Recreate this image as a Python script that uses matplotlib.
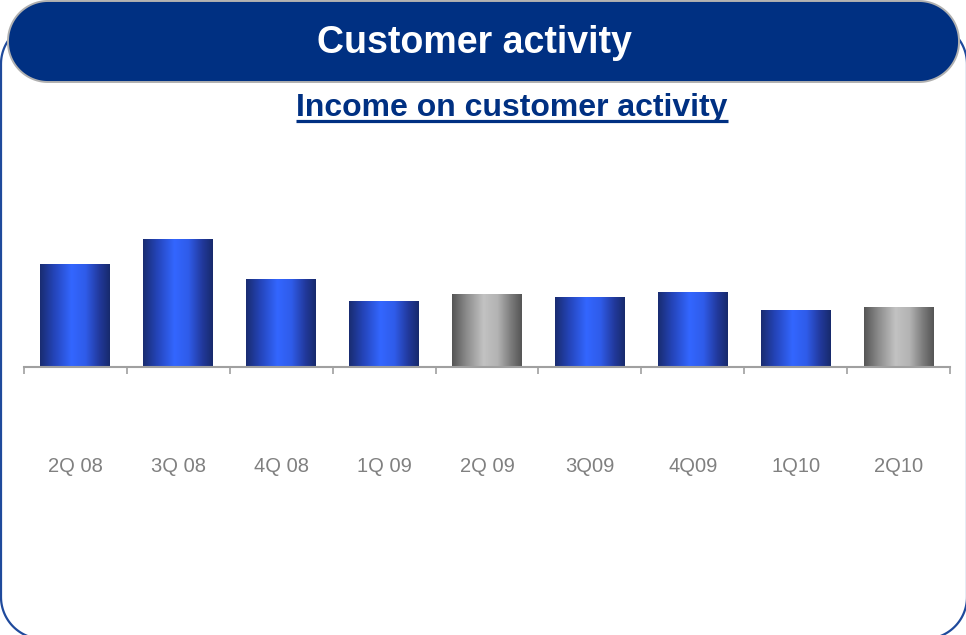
import numpy as np
import matplotlib
matplotlib.use("Agg")
import matplotlib.pyplot as plt
from matplotlib.colors import LinearSegmentedColormap
from matplotlib.patches import Polygon

plt.rcParams["font.family"] = ["Liberation Sans", "DejaVu Sans"]

quarters = ["2Q 08", "3Q 08", "4Q 08", "1Q 09", "2Q 09", "3Q09", "4Q09", "1Q10", "2Q10"]
income = [103, 128, 88, 66, 73, 70, 75, 57, 60]
# second quarters are shown in grey, the rest in blue
highlight = [False, False, False, False, True, False, False, False, True]

W, H = 966, 635
NAVY = "#003082"

blue_cmap = LinearSegmentedColormap.from_list(
    "blue_bar", [(0.0, "#192c70"), (0.2, "#2444b8"), (0.45, "#3366ff"),
                 (0.65, "#2f5cea"), (0.85, "#22399c"), (1.0, "#172a6c")])
grey_cmap = LinearSegmentedColormap.from_list(
    "grey_bar", [(0.0, "#555555"), (0.2, "#8a8a8a"), (0.45, "#c2c2c2"),
                 (0.65, "#b4b4b4"), (0.85, "#7a7a7a"), (1.0, "#555555")])


def rounded_rect(x0, y0, x1, y1, r, n=40):
    # outline of a rectangle with circular corners (y grows downwards)
    pts = []
    corners = [(x1 - r, y0 + r, -90, 0), (x1 - r, y1 - r, 0, 90),
               (x0 + r, y1 - r, 90, 180), (x0 + r, y0 + r, 180, 270)]
    for cx, cy, a0, a1 in corners:
        t = np.radians(np.linspace(a0, a1, n))
        pts.extend(zip(cx + r * np.cos(t), cy + r * np.sin(t)))
    return np.array(pts)


fig = plt.figure(figsize=(W / 100, H / 100), dpi=100)

# background decoration in pixel coordinates
bg = fig.add_axes([0, 0, 1, 1])
bg.set_xlim(0, W)
bg.set_ylim(H, 0)
bg.axis("off")

bg.add_patch(Polygon(rounded_rect(1, 22, 967, 639, 42), closed=True,
                     fc="none", ec="#1f4a9c", lw=1.6))
bg.add_patch(Polygon(rounded_rect(8, 1, 959, 82, 40), closed=True,
                     fc=NAVY, ec="#b0b0b0", lw=1.4))

bg.text(474, 53, "Customer activity", color="white", fontsize=27, fontweight="bold",
        ha="center", va="baseline")
sub = bg.text(512, 116, "Income on customer activity", color=NAVY, fontsize=23,
              fontweight="bold", ha="center", va="baseline")

# bar chart
base_y = 367
top_y = 200
ax = fig.add_axes([24 / W, 1 - base_y / H, 926 / W, (base_y - top_y) / H])
ax.set_xlim(-0.5, len(quarters) - 0.5)
ax.set_ylim(0, base_y - top_y)
ax.patch.set_alpha(0)

x = np.arange(len(quarters))
bars = ax.bar(x, income, width=0.68, color="none", edgecolor="none")
ramp = np.linspace(0, 1, 256).reshape(1, -1)
for bar, grey in zip(bars, highlight):
    x0, w, h = bar.get_x(), bar.get_width(), bar.get_height()
    ax.imshow(ramp, cmap=grey_cmap if grey else blue_cmap, aspect="auto",
              extent=(x0, x0 + w, 0, h), interpolation="bilinear", zorder=2)

for side in ("left", "right", "top"):
    ax.spines[side].set_visible(False)
ax.spines["bottom"].set_color("#a0a0a0")
ax.spines["bottom"].set_linewidth(1.5)
ax.set_yticks([])

ax.set_xticks(x)
ax.set_xticklabels(quarters, color="#808080", fontsize=14.5)
ax.tick_params(axis="x", which="major", length=0, pad=65)
ax.set_xticks(np.arange(len(quarters) + 1) - 0.5, minor=True)
ax.tick_params(axis="x", which="minor", length=5, width=1.2, color="#a0a0a0", direction="out")

# underline the subtitle to its rendered width
fig.canvas.draw()
bb = sub.get_window_extent().transformed(bg.transData.inverted())
bg.plot([bb.x0, bb.x1], [120.5, 120.5], color=NAVY, lw=2.3, solid_capstyle="butt")

fig.savefig("out.png", dpi=100)
